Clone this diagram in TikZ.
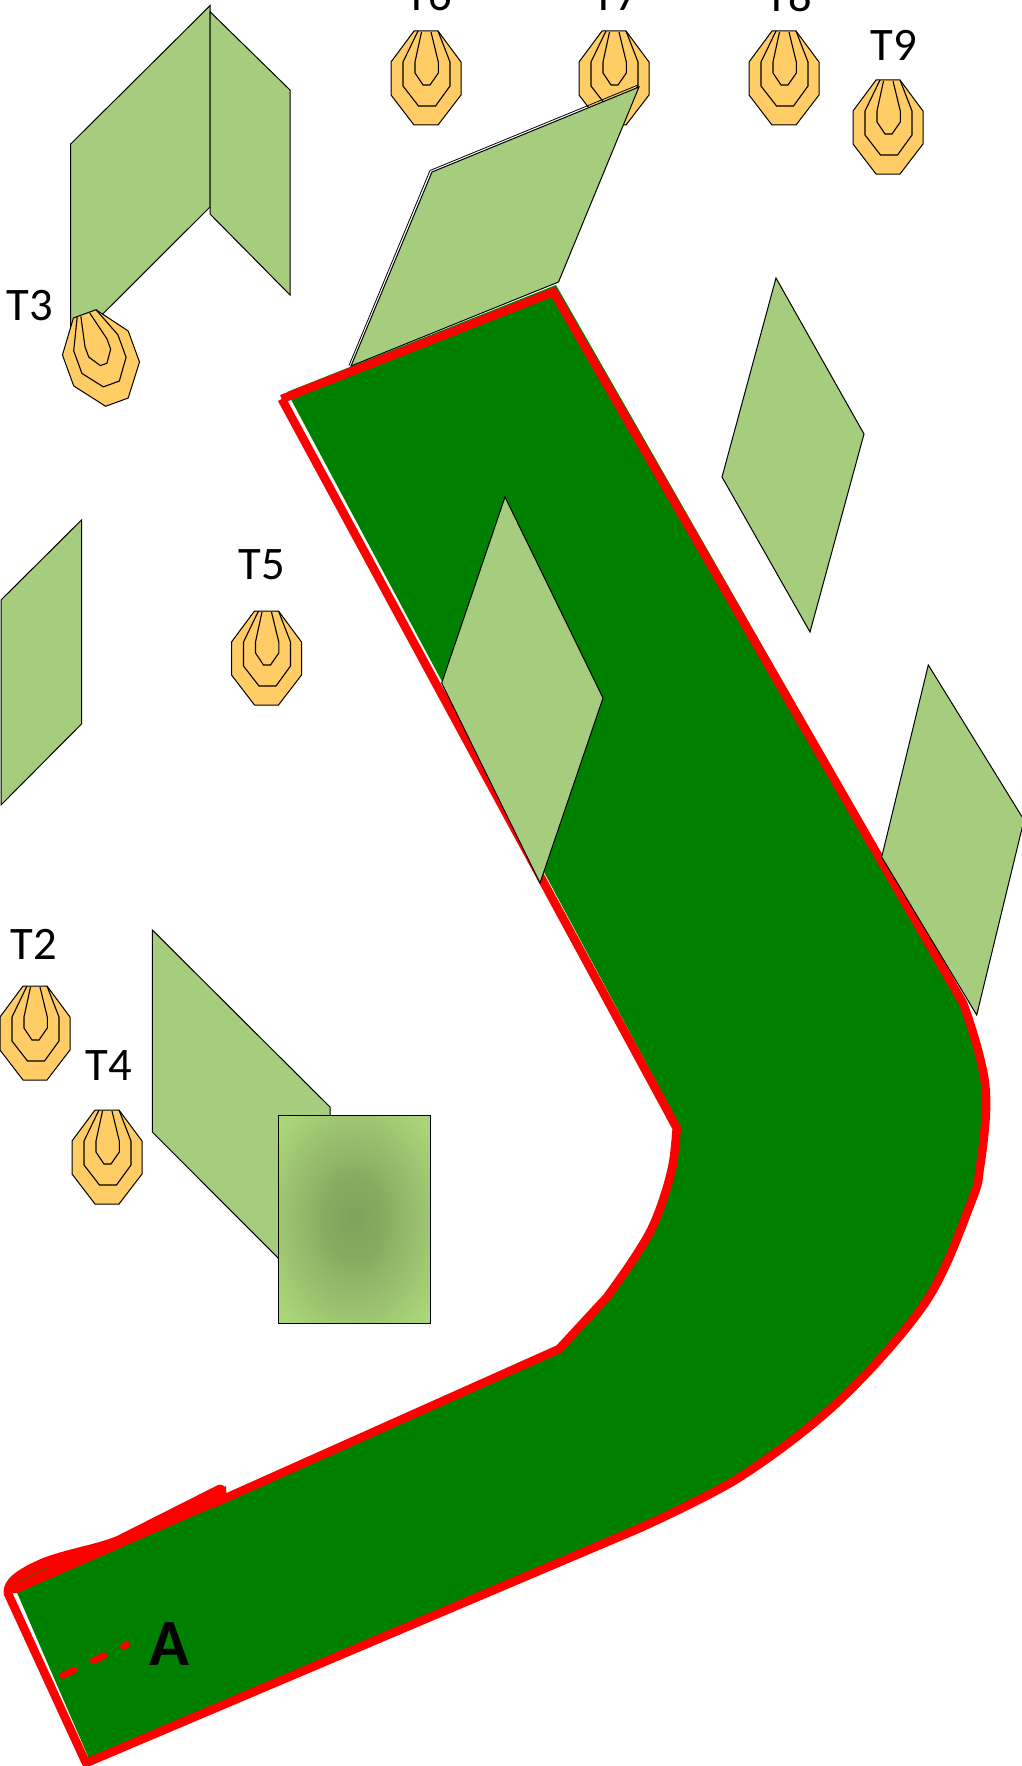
\documentclass[tikz,border=0pt]{standalone}
\usepackage{fontspec}
\setmainfont{Carlito}
\definecolor{wallgreen}{HTML}{A6CD7E}
\definecolor{roadgreen}{HTML}{008000}
\definecolor{targetfill}{HTML}{FFCC66}
\definecolor{glowa}{HTML}{7FA25B}
\definecolor{glowb}{HTML}{87AC60}
\definecolor{glowc}{HTML}{9BC26F}
\definecolor{glowd}{HTML}{A9D579}
\definecolor{glowe}{HTML}{B4E681}
\definecolor{glowf}{HTML}{C2FA8B}
\pgfdeclareradialshading{bermglow}{\pgfpointorigin}{
  color(0bp)=(glowa); color(10bp)=(glowb); color(22bp)=(glowc); color(32bp)=(glowd); color(50bp)=(glowe); color(72bp)=(glowf)}
\tikzset{
  wall/.style={fill=wallgreen,draw=black,line width=0.5pt,line join=miter},
  redline/.style={draw=red,line width=4.25pt,line join=round},
  tlabel/.style={anchor=base,inner sep=0pt,font=\fontsize{23.3}{26}\selectfont},
  targetpic/.pic={
    \filldraw[fill=targetfill,draw=black,line width=0.5pt]
      (-12,-47)--(12,-47)--(35,-16)--(35,17)--(12,47)--(-12,47)--(-35,17)--(-35,-16)--cycle;
    \draw[black,line width=0.55pt]
      (-8,-47)--(-23,-16)--(-23,8)--(-7.5,28)--(9.5,28)--(24,8)--(24,-16)--(12,-47);
    \draw[black,line width=0.55pt]
      (-4.5,-46)--(-11,-16)--(-11,-5)--(-3,7)--(4,7)--(12.3,-5)--(12.3,-16)--(5,-46);
  }
}
\begin{document}
\begin{tikzpicture}[x=0.5pt,y=-0.5pt]
\clip (0,0) rectangle (1022,1766);
\fill[white] (0,0) rectangle (1022,1766);
% road
\fill[roadgreen] (287,392) -- (556,285) -- (965,1000)
  -- plot[smooth,tension=.55] coordinates {(968,1017) (978,1050) (985,1083) (985.7,1117) (980,1167) (972,1200) (927,1300) (840,1400) (740,1477) (640,1528)}
  -- (90,1761) -- (16.7,1592) -- (226,1486) -- (226,1497) -- (559,1349)
  -- plot[smooth,tension=.55] coordinates {(607,1297) (631,1263) (651,1230) (664,1197) (673,1163) (676.7,1128)}
  -- (681,1128) -- cycle;
% red outline
\draw[redline] (281.7,399) -- (553.5,292) -- (963,1003)
  -- plot[smooth,tension=.55] coordinates {(968,1017) (978,1050) (985,1083) (985.7,1117) (980,1167) (972,1200) (927,1300) (840,1400) (740,1477) (640,1528)}
  -- (86,1763) -- (7.3,1592);
\draw[redline] (210,1505) -- (559,1349)
  -- plot[smooth,tension=.55] coordinates {(607,1297) (631,1263) (651,1230) (664,1197) (673,1163) (676.7,1128)}
  -- (281.7,399);
\fill[red] (3.5,1593) .. controls (3,1580) and (15,1570) .. (43,1558)
  .. controls (70,1548) and (95,1545) .. (117,1536) -- (218,1485)
  .. controls (226,1482) and (230,1495) .. (222,1500)
  .. controls (214,1505) and (210,1510) .. (200,1513) -- (17,1593) -- cycle;
\draw[roadgreen,line width=0.3pt] (20,1581) -- (47,1568);
\draw[red,line width=3.3pt,line cap=round,dash pattern=on 6.2pt off 10.6pt] (63,1675.5) -- (127,1644.5);
% targets
\path (426,78) pic {targetpic} (614,78) pic {targetpic} (784,78) pic {targetpic}
  (888,127) pic {targetpic} (266.5,658) pic {targetpic} (35,1033) pic {targetpic} (107,1157) pic {targetpic};
% walls
\draw[wall] (70.7,144) -- (210,5.7) -- (210,207) -- (70.7,346) -- cycle;
\draw[wall] (210,11.7) -- (290,90) -- (290,295) -- (210,214) -- cycle;
\draw[wall] (351,366) -- (432,172) -- (639,87) -- (558.5,282) -- cycle;
\draw[black,line width=0.4pt] (349,365.5) -- (430,170.5) -- (638,85);
\draw[wall] (776,278) -- (864,434) -- (810,632) -- (722,477) -- cycle;
\draw[wall] (505,497) -- (603,698) -- (540,883) -- (441.7,683) -- cycle;
\draw[wall] (928.3,665) -- (1024,820) -- (976.7,1015) -- (881.7,857) -- cycle;
\draw[wall] (1,600) -- (81.5,520) -- (81.5,724) -- (1,805) -- cycle;
\draw[wall] (152.3,930) -- (330,1107) -- (330,1310) -- (152.3,1132) -- cycle;
\path (100.8,358) pic[rotate=20] {targetpic};
% berm
\shade[shading=bermglow,draw=black,line width=0.5pt] (278.3,1115) rectangle (430,1323);
% labels
\node[tlabel] (t3) at (29.5,320) {T3};
\node[tlabel] (t6) at (429,11) {T6};
\node[tlabel] (t7) at (616,11) {T7};
\node[tlabel] (t8) at (789,11.5) {T8};
\node[tlabel] (t9) at (894,61) {T9};
\node[tlabel] (t5) at (262,579) {T5};
\node[tlabel] (t2) at (33.5,959) {T2};
\node[tlabel] (t4) at (108.5,1080) {T4};
\node[anchor=base,inner sep=0pt,font=\fontsize{33}{36}\selectfont\bfseries] (a) at (169,1665) {A};
\end{tikzpicture}
\end{document}
